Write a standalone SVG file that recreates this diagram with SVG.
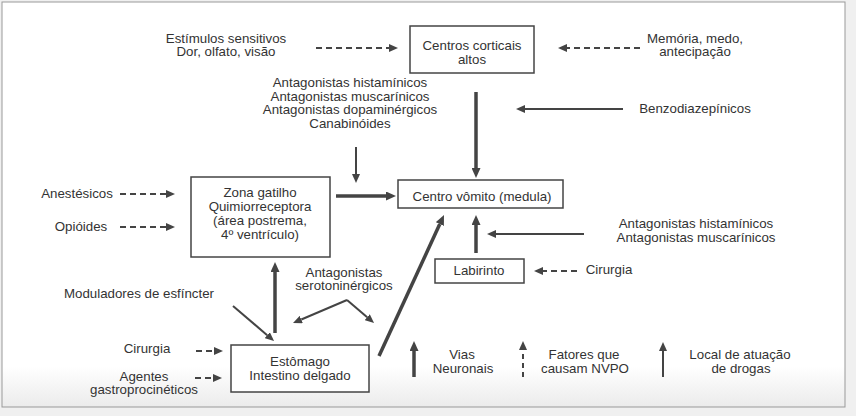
<svg xmlns="http://www.w3.org/2000/svg" width="856" height="416" viewBox="0 0 856 416">
<defs>
<linearGradient id="bg" x1="0" y1="0" x2="0" y2="1">
<stop offset="0" stop-color="#ffffff"/>
<stop offset="0.9" stop-color="#ffffff"/>
<stop offset="1" stop-color="#ebebeb"/>
</linearGradient>
<marker id="hK" viewBox="0 0 10 9" markerWidth="10" markerHeight="9" refX="0" refY="4.5" orient="auto" markerUnits="userSpaceOnUse">
<path d="M0,0 L10,4.5 L0,9 z" fill="#444"/>
</marker>
<marker id="hT" viewBox="0 0 9 8" markerWidth="9" markerHeight="8" refX="0" refY="4" orient="auto" markerUnits="userSpaceOnUse">
<path d="M0,0 L9,4 L0,8 z" fill="#444"/>
</marker>
</defs>
<style>
text{font-family:"Liberation Sans",Arial,Helvetica,sans-serif;font-size:13.3px;fill:#333;text-anchor:middle}
.box{fill:#fff;stroke:#444;stroke-width:1.5}
.thick{stroke:#444;stroke-width:3.5;fill:none;marker-end:url(#hK)}
.thin{stroke:#444;stroke-width:2;fill:none;marker-end:url(#hT)}
.dash{stroke:#444;stroke-width:2;fill:none;stroke-dasharray:6 4;marker-end:url(#hT)}
</style>
<rect x="0" y="0" width="856" height="416" fill="#f0f0f0"/>
<rect x="2" y="2" width="843" height="405" fill="url(#bg)" stroke="#999" stroke-width="1"/>

<g id="connectors">
<line class="thick" x1="476" y1="92" x2="476" y2="168"/>
<line class="thick" x1="336" y1="196" x2="386" y2="196"/>
<line class="thick" x1="476" y1="253" x2="476" y2="225"/>
<line class="thick" x1="379" y1="356" x2="439.8" y2="224.1"/>
<line class="thick" x1="275" y1="333" x2="275" y2="272"/>
<line class="thin" x1="356" y1="147" x2="356" y2="174"/>
<line class="thin" x1="623" y1="109" x2="525" y2="109"/>
<line class="thin" x1="584" y1="234" x2="496" y2="234"/>
<line class="thin" x1="233" y1="306" x2="267.2" y2="335.2"/>
<line class="thin" x1="347" y1="300" x2="301.3" y2="319.5"/>
<line class="thin" x1="347" y1="300" x2="367.2" y2="317.2"/>
<line class="dash" x1="316" y1="48" x2="389" y2="48"/>
<line class="dash" x1="640" y1="48" x2="567" y2="48"/>
<line class="dash" x1="120" y1="194" x2="166" y2="194"/>
<line class="dash" x1="120" y1="227" x2="166" y2="227"/>
<line class="dash" x1="577" y1="271" x2="543" y2="271"/>
<line class="dash" x1="196" y1="351" x2="214" y2="351"/>
<line class="dash" x1="195" y1="378" x2="213" y2="378"/>
</g>

<g id="centros-corticais">
<rect class="box" x="410" y="26" width="124" height="47"/>
<text x="472" y="50">Centros corticais</text>
<text x="472" y="64">altos</text>
</g>
<g id="estimulos">
<text x="226" y="43">Estímulos sensitivos</text>
<text x="226" y="56">Dor, olfato, visão</text>
</g>
<g id="memoria">
<text x="695" y="43">Memória, medo,</text>
<text x="695" y="56">antecipação</text>
</g>
<g id="antagonistas-top">
<text x="350" y="87">Antagonistas histamínicos</text>
<text x="350" y="100.5">Antagonistas muscarínicos</text>
<text x="350" y="114">Antagonistas dopaminérgicos</text>
<text x="350" y="127.5">Canabinóides</text>
</g>
<g id="benzodiazepinicos">
<text x="695" y="113">Benzodiazepínicos</text>
</g>
<g id="zona-gatilho">
<rect class="box" x="191" y="177" width="139" height="80"/>
<text x="260" y="197">Zona gatilho</text>
<text x="260" y="211">Quimiorreceptora</text>
<text x="260" y="225">(área postrema,</text>
<text x="260" y="239">4º ventrículo)</text>
</g>
<g id="anestesicos">
<text x="77" y="198">Anestésicos</text>
</g>
<g id="opioides">
<text x="81" y="231">Opióides</text>
</g>
<g id="centro-vomito">
<rect class="box" x="398" y="180" width="165" height="28"/>
<text x="482" y="201">Centro vômito (medula)</text>
</g>
<g id="antagonistas-right">
<text x="696" y="228">Antagonistas histamínicos</text>
<text x="696" y="242">Antagonistas muscarínicos</text>
</g>
<g id="labirinto">
<rect class="box" x="435" y="259" width="89" height="24"/>
<text x="479" y="275">Labirinto</text>
</g>
<g id="cirurgia-right">
<text x="609" y="274">Cirurgia</text>
</g>
<g id="antagonistas-serotoninergicos">
<text x="344" y="277">Antagonistas</text>
<text x="344" y="290">serotoninérgicos</text>
</g>
<g id="moduladores">
<text x="139" y="298">Moduladores de esfíncter</text>
</g>
<g id="estomago">
<rect class="box" x="231" y="345" width="138" height="47"/>
<text x="300" y="366">Estômago</text>
<text x="300" y="380">Intestino delgado</text>
</g>
<g id="cirurgia-left">
<text x="147" y="353">Cirurgia</text>
</g>
<g id="agentes">
<text x="144" y="381">Agentes</text>
<text x="144" y="394">gastroprocinéticos</text>
</g>
<g id="legend">
<line class="thick" x1="414" y1="377" x2="414" y2="351"/>
<text x="462" y="359">Vias</text>
<text x="463" y="373">Neuronais</text>
<line class="dash" x1="523" y1="377" x2="523" y2="350" style="stroke-dasharray:5 4"/>
<text x="584" y="359">Fatores que</text>
<text x="585" y="373">causam NVPO</text>
<line class="thin" x1="663" y1="377" x2="663" y2="351"/>
<text x="740" y="359">Local de atuação</text>
<text x="741" y="373">de drogas</text>
</g>
</svg>
